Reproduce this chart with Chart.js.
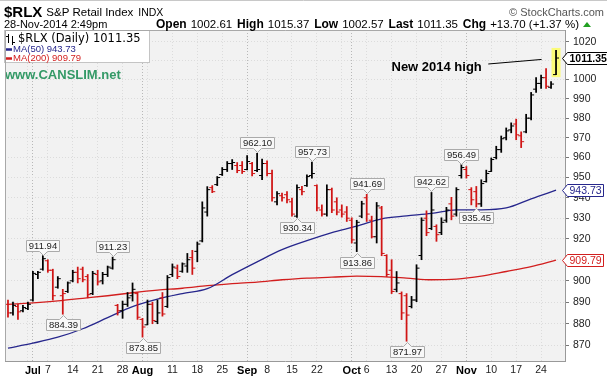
<!DOCTYPE html>
<html>
<head>
<meta charset="utf-8">
<script src="https://cdn.jsdelivr.net/npm/chart.js@4.4.1/dist/chart.umd.min.js"></script>
<style>
html,body{margin:0;padding:0;background:#fff;overflow:hidden}
canvas{display:block}
</style>
</head>
<body>
<canvas id="c" width="607" height="378"></canvas>
<script>
// ---------------- DATA ----------------
const dates = [
"2014-06-24","2014-06-25","2014-06-26","2014-06-27","2014-06-30",
"2014-07-01","2014-07-02","2014-07-03","2014-07-07","2014-07-08","2014-07-09","2014-07-10","2014-07-11",
"2014-07-14","2014-07-15","2014-07-16","2014-07-17","2014-07-18","2014-07-21","2014-07-22","2014-07-23",
"2014-07-24","2014-07-25","2014-07-28","2014-07-29","2014-07-30","2014-07-31",
"2014-08-01","2014-08-04","2014-08-05","2014-08-06","2014-08-07","2014-08-08","2014-08-11","2014-08-12",
"2014-08-13","2014-08-14","2014-08-15","2014-08-18","2014-08-19","2014-08-20","2014-08-21","2014-08-22",
"2014-08-25","2014-08-26","2014-08-27","2014-08-28","2014-08-29",
"2014-09-02","2014-09-03","2014-09-04","2014-09-05","2014-09-08","2014-09-09","2014-09-10","2014-09-11",
"2014-09-12","2014-09-15","2014-09-16","2014-09-17","2014-09-18","2014-09-19","2014-09-22","2014-09-23",
"2014-09-24","2014-09-25","2014-09-26","2014-09-29","2014-09-30",
"2014-10-01","2014-10-02","2014-10-03","2014-10-06","2014-10-07","2014-10-08","2014-10-09","2014-10-10",
"2014-10-13","2014-10-14","2014-10-15","2014-10-16","2014-10-17","2014-10-20","2014-10-21","2014-10-22",
"2014-10-23","2014-10-24","2014-10-27","2014-10-28","2014-10-29","2014-10-30","2014-10-31",
"2014-11-03","2014-11-04","2014-11-05","2014-11-06","2014-11-07","2014-11-10","2014-11-11","2014-11-12",
"2014-11-13","2014-11-14","2014-11-17","2014-11-18","2014-11-19","2014-11-20","2014-11-21","2014-11-24",
"2014-11-25","2014-11-26","2014-11-28"
];
const opens = [
889,885,888,886,887,
891,903,905.5,909.5,905, 897,893,895,900,904, 905.5,902,894,903,900, 903,906,888.5,886,889,
893,894,882,879.5,889, 881,892,888,903,906, 904.5,907,911,914,919, 933,945,946.5,951.5,954,
957,956,956,954,957, 953.5,951,957,952,938, 941,941.5,938,931,944, 946,951,946,934,932,
944,938,934,933,929, 918,931,940,929,921, 935,912,905,896,894, 893,888,891,912,930,
925,926,923,929,937, 932,951,954,944,943, 937,948,953,960,964, 970,974,977,971,973,
980,995,998,1001,996,1002.61
];
const highs = [
891,890,889,888.5,890,
904.5,904.5,911.94,910,905.5, 902,896,899.5,905,906.5, 906.5,903,904.5,905,904, 907,911.23,889,890.5,894.5,
899,894.5,882.5,891,890, 891,894.5,902.5,908,907.5, 908.5,913,914.5,918.5,938, 945.5,946,950.5,955,958,
959,957.5,958,961,957.6, 962.10,959.2,958.4,953.7,943, 942.3,943,939.9,946.4,945.6, 951.3,957.73,946.4,936.5,946.4,
944.8,940,936.5,935.7,930.2, 929,938.3,941.69,931,937.7, 935.8,912.4,910,904.4,894.8, 894,892.7,907.6,930.2,933.6,
942.62,926.8,930.2,935.3,940.2, 945,956.49,955.5,945,945.6, 948.9,953.7,959.8,965.7,970.9, 975,977.6,979.5,973,982,
993.3,1001,1002.4,1005.8,999,1015.37
];
const lows = [
883,884,882,885.5,886.5,
890.5,901,905,904,891, 896.5,884.39,894.5,899.5,899, 899.5,892,893.5,898,898.5, 902,905.5,884,882.5,888,
890.5,882,873.85,879.5,880, 880,883.5,887.5,902,901, 904,904,903,909,918.5, 931,942.5,946,951,953,
954,952.4,952,953.8,950.8, 952.9,948.9,950.8,938.3,936.5, 938.3,937.5,931,930.34,941.4, 945.6,949.7,933.6,931,931,
932.7,931.6,930.5,928.4,918, 913.86,930.2,928.4,920.4,918, 911.9,902,894,894.8,881.9, 871.97,887.3,890.2,910,921.5,
924.4,918.8,922,928,929.2, 931,949.7,949.7,936.5,935.45, 935.7,947.7,953,959.3,962.6, 968.9,972.5,969,965,972.5,
979.1,993.3,995.4,995.4,995.4,1002.57
];
const closes = [
885,888.5,885.5,887.5,889,
903.5,904,910.5,905,893, 901,894,899,904,901, 900.5,893.5,903.5,899.5,903, 906.5,910,886,889,892,
896,883,878.5,889,881.5, 885,884.5,901.5,906.5,902, 908,910,906,917.5,935, 944,943,950,954,957,
957.5,953.5,953,958,952, 954,957,952,940,942, 940,939,932,945,943, 950.5,952,935,932,944,
934,933,932,930,919.5, 928,937,932,921,936, 913,903,895,899,885, 884,891,906,929,923,
934,922,928,934,931, 944,955,951,939,937, 947,952,959,964,969.5, 973.5,976,971.5,968,980,
992,998,1001,996.5,997.65,1011.35
];
// moving averages, at every 5th trading day (index into dates)
const maIdx  = [0,5,10,15,20,25,30,35,40,45,50,55,60,65,70,75,80,85,90,95,100,105,110];
const ma50   = [868.8,871.1,873.8,877.7,882.8,887.9,891.4,894.0,896.3,902.9,909.0,914.8,919.1,923.0,926.1,929.7,931.1,932.3,934.1,934.1,935.0,939.5,943.73];
const ma200  = [889.0,889.7,890.6,891.8,893.0,894.4,895.6,896.5,897.7,898.7,899.4,900.5,901.3,901.7,902.2,902.0,901.3,900.5,900.8,902.2,904.4,906.7,909.79];
const yTicks = [870,880,890,900,910,920,930,940,950,960,970,980,990,1000,1010,1020];
const labelHighs = [911.94,911.23,962.10,957.73,941.69,942.62,956.49];
const labelLows  = [884.39,873.85,930.34,913.86,871.97,935.45];
const monthNames = ["Jan","Feb","Mar","Apr","May","Jun","Jul","Aug","Sep","Oct","Nov","Dec"];

// ---------------- derived ----------------
const N = dates.length;
const last = N - 1;
const parsed = dates.map(d => new Date(d + "T00:00:00Z"));
const weekKey = d => Math.floor((d.getTime() / 86400000 + 3) / 7);
const tickIdx = [], tickLabel = {}, monthIdx = new Set();
for (let i = 1; i < N; i++) {
  const d = parsed[i], p = parsed[i - 1];
  if (d.getUTCMonth() !== p.getUTCMonth()) { monthIdx.add(i); }
}
for (let i = 1; i < N; i++) {
  const d = parsed[i], p = parsed[i - 1];
  const isMonth = monthIdx.has(i);
  const isWeek = weekKey(d) !== weekKey(p);
  if (isMonth) { tickIdx.push(i); tickLabel[i] = monthNames[d.getUTCMonth()]; }
  else if (isWeek) {
    tickIdx.push(i);
    let near = false;
    for (let k = -2; k <= 2; k++) if (monthIdx.has(i + k)) near = true;
    tickLabel[i] = near ? "" : String(d.getUTCDate());
  }
}
const BLACK = "#000000", RED = "#d01515";
const barColors = closes.map((c, i) => (i === 0 ? (c >= opens[0]) : (c >= closes[i - 1])) ? BLACK : RED);

const SANS = '"Liberation Sans", Arial, sans-serif';
Chart.defaults.font.family = SANS;

function valueBox(ctx, x, y, text, above) {
  ctx.font = "9.5px " + SANS;
  const tw = ctx.measureText(text).width;
  const w = Math.round(tw + 5), h = 11, tri = 4, gap = 1;
  const L = Math.round(x - w / 2) + 0.5;
  const xc = Math.round(x) + 0.5;
  let top;
  ctx.beginPath();
  if (above) {
    const bottom = Math.round(y - gap - tri) + 0.5; top = bottom - h;
    ctx.moveTo(L, top); ctx.lineTo(L + w, top); ctx.lineTo(L + w, bottom);
    ctx.lineTo(xc + 4, bottom); ctx.lineTo(xc, bottom + tri); ctx.lineTo(xc - 4, bottom);
    ctx.lineTo(L, bottom); ctx.closePath();
  } else {
    top = Math.round(y + gap + tri) + 0.5; const bottom = top + h;
    ctx.moveTo(L, top); ctx.lineTo(xc - 4, top); ctx.lineTo(xc, top - tri); ctx.lineTo(xc + 4, top);
    ctx.lineTo(L + w, top); ctx.lineTo(L + w, bottom); ctx.lineTo(L, bottom); ctx.closePath();
  }
  ctx.fillStyle = "#f8f8f8"; ctx.fill();
  ctx.strokeStyle = "#aaaaaa"; ctx.lineWidth = 1; ctx.stroke();
  ctx.fillStyle = "#222"; ctx.textAlign = "center"; ctx.textBaseline = "middle";
  ctx.fillText(text, L + w / 2, top + h / 2 + 0.5);
}

function tag(chart, value, text, color, bold) {
  const ctx = chart.ctx;
  const y = Math.round(chart.scales.y.getPixelForValue(value)) + 0.5;
  const tip = chart.chartArea.right - 2.5;
  ctx.font = (bold ? "bold " : "") + "10.5px " + SANS;
  const tw = ctx.measureText(text).width;
  const h = 12, w = Math.round(tw + 4);
  ctx.beginPath();
  ctx.moveTo(tip, y); ctx.lineTo(tip + 5, y - h / 2); ctx.lineTo(tip + 5 + w, y - h / 2);
  ctx.lineTo(tip + 5 + w, y + h / 2); ctx.lineTo(tip + 5, y + h / 2); ctx.closePath();
  ctx.fillStyle = "#fff"; ctx.fill();
  ctx.strokeStyle = color; ctx.lineWidth = 1; ctx.stroke();
  ctx.fillStyle = color; ctx.textAlign = "left"; ctx.textBaseline = "middle";
  ctx.fillText(text, tip + 7, y + 0.5);
}

const decor = {
  id: "decor",
  beforeDraw(chart) {
    const { ctx, chartArea: a } = chart;
    ctx.save();
    ctx.fillStyle = "#fff"; ctx.fillRect(0, 0, chart.width, chart.height);
    ctx.fillStyle = "#f2f2f2"; ctx.fillRect(a.left, a.top, a.right - a.left, a.bottom - a.top);
    ctx.restore();
  },
  beforeDatasetsDraw(chart) {
    const ctx = chart.ctx;
    const x = chart.scales.x.getPixelForValue(last);
    const yt = chart.scales.y.getPixelForValue(highs[last]) - 2.5;
    const yb = chart.scales.y.getPixelForValue(lows[last]) + 2.5;
    ctx.save();
    ctx.fillStyle = "#fbfb78";
    ctx.fillRect(x - 4.5, yt, 9, yb - yt);
    ctx.restore();
  },
  afterDatasetsDraw(chart) {
    const ctx = chart.ctx, xs = chart.scales.x, ys = chart.scales.y;
    ctx.save();
    labelHighs.forEach(v => {
      const i = highs.indexOf(v);
      valueBox(ctx, xs.getPixelForValue(i), ys.getPixelForValue(v), v.toFixed(2), true);
    });
    labelLows.forEach(v => {
      const i = lows.indexOf(v);
      valueBox(ctx, xs.getPixelForValue(i), ys.getPixelForValue(v), v.toFixed(2), false);
    });
    // legend box
    ctx.fillStyle = "#fff"; ctx.fillRect(4.5, 30.5, 145, 32);
    ctx.strokeStyle = "#c4c4c4"; ctx.lineWidth = 1; ctx.strokeRect(4.5, 30.5, 145, 32);
    // OHLC glyph
    ctx.strokeStyle = "#000"; ctx.beginPath();
    ctx.moveTo(8.5, 34); ctx.lineTo(8.5, 43); ctx.moveTo(6, 36.5); ctx.lineTo(8.5, 36.5);
    ctx.moveTo(12.5, 36); ctx.lineTo(12.5, 45); ctx.moveTo(12.5, 42.5); ctx.lineTo(15, 42.5);
    ctx.stroke();
    ctx.textAlign = "left"; ctx.textBaseline = "middle";
    ctx.fillStyle = "#000"; ctx.font = '11.5px "DejaVu Sans", Verdana, sans-serif';
    ctx.fillText("$RLX (Daily) " + closes[last].toFixed(2), 18, 39.5);
    ctx.lineWidth = 2.5;
    ctx.strokeStyle = "#26268c"; ctx.beginPath(); ctx.moveTo(5, 49.5); ctx.lineTo(12, 49.5); ctx.stroke();
    ctx.strokeStyle = "#d21e1e"; ctx.beginPath(); ctx.moveTo(5, 58.5); ctx.lineTo(12, 58.5); ctx.stroke();
    ctx.font = "9.5px " + SANS;
    ctx.fillStyle = "#26268c"; ctx.fillText("MA(50) " + ma50[ma50.length - 1].toFixed(2), 13, 49.5);
    ctx.fillStyle = "#d21e1e"; ctx.fillText("MA(200) " + ma200[ma200.length - 1].toFixed(2), 13, 58.5);
    // site text
    ctx.fillStyle = "#339966"; ctx.font = "bold 13px " + SANS;
    ctx.fillText("www.CANSLIM.net", 5, 75.5);
    // note
    ctx.fillStyle = "#000"; ctx.font = "bold 13px " + SANS; ctx.textAlign = "right";
    ctx.fillText("New 2014 high", xs.getPixelForValue(95.1), ys.getPixelForValue(1006.2));
    ctx.strokeStyle = "#000"; ctx.lineWidth = 1; ctx.beginPath();
    ctx.moveTo(xs.getPixelForValue(96.4), ys.getPixelForValue(1008.2));
    ctx.lineTo(xs.getPixelForValue(107.1), ys.getPixelForValue(1010.6));
    ctx.stroke();
    ctx.restore();
  },
  afterDraw(chart) {
    const { ctx, chartArea: a } = chart;
    ctx.save();
    // frame (left/top solid)
    ctx.strokeStyle = "#a8a8a8"; ctx.lineWidth = 1; ctx.beginPath();
    ctx.moveTo(a.left + 0.5, a.bottom); ctx.lineTo(a.left + 0.5, a.top + 0.5); ctx.lineTo(a.right, a.top + 0.5);
    ctx.stroke();
    ctx.strokeStyle = "#c8c8c8"; ctx.beginPath(); ctx.moveTo(0, 0.5); ctx.lineTo(chart.width, 0.5); ctx.stroke();
    // right tags
    tag(chart, closes[last], closes[last].toFixed(2), "#000", true);
    tag(chart, ma50[ma50.length - 1], ma50[ma50.length - 1].toFixed(2), "#26268c", false);
    tag(chart, ma200[ma200.length - 1], ma200[ma200.length - 1].toFixed(2), "#d21e1e", false);
    // header row 1
    ctx.textBaseline = "middle"; ctx.textAlign = "left"; ctx.fillStyle = "#000";
    let hx = 4;
    ctx.font = "bold 15px " + SANS; ctx.fillText("$RLX", hx, 12.5); hx += ctx.measureText("$RLX").width + 4;
    ctx.font = "11.5px " + SANS; ctx.fillText("S&P Retail Index", hx, 13); hx += ctx.measureText("S&P Retail Index").width + 5;
    ctx.font = "10.5px " + SANS; ctx.fillText("INDX", hx, 13);
    ctx.fillStyle = "#555"; ctx.font = "11px " + SANS; ctx.textAlign = "right";
    ctx.fillText("\u00A9 StockCharts.com", 604, 13);
    // header row 2
    ctx.textAlign = "left"; ctx.fillStyle = "#000";
    ctx.font = "11px " + SANS; ctx.fillText("28-Nov-2014 2:49pm", 4, 24.5);
    const chg = closes[last] - closes[last - 1];
    const pct = chg / closes[last - 1] * 100;
    const segs = [["Open", opens[last].toFixed(2)], ["High", highs[last].toFixed(2)], ["Low", lows[last].toFixed(2)],
      ["Last", closes[last].toFixed(2)], ["Chg", "+" + chg.toFixed(2) + " (+" + pct.toFixed(2) + " %)"]];
    const bf = "bold 12px " + SANS, nf = "11.5px " + SANS;
    let widths = segs.map(s => { ctx.font = bf; const a1 = ctx.measureText(s[0]).width; ctx.font = nf; return a1 + 4 + ctx.measureText(s[1]).width; });
    const total = widths.reduce((p, q) => p + q, 0);
    const x0 = 156, x1 = 579;
    const gap = (x1 - x0 - total) / (segs.length - 1);
    let x = x0;
    segs.forEach((s, k) => {
      ctx.font = bf; ctx.fillText(s[0], x, 24.5); const a1 = ctx.measureText(s[0]).width;
      ctx.font = nf; ctx.fillText(s[1], x + a1 + 4, 24.5);
      x += widths[k] + gap;
    });
    ctx.fillStyle = "#22a022"; ctx.beginPath();
    ctx.moveTo(583, 27); ctx.lineTo(591, 27); ctx.lineTo(587, 22); ctx.closePath(); ctx.fill();
    ctx.restore();
  }
};

new Chart(document.getElementById("c"), {
  type: "scatter",
  data: {
    datasets: [
      { type: "line", label: "MA(200)", data: maIdx.map((x, k) => ({ x, y: ma200[k] })),
        borderColor: "#d21e1e", borderWidth: 1.3, pointRadius: 0, cubicInterpolationMode: "monotone", order: 5 },
      { type: "line", label: "MA(50)", data: maIdx.map((x, k) => ({ x, y: ma50[k] })),
        borderColor: "#26268c", borderWidth: 1.3, pointRadius: 0, cubicInterpolationMode: "monotone", order: 4 },
      { type: "bar", label: "High-Low", data: dates.map((d, i) => ({ x: i, y: [lows[i], highs[i]] })),
        backgroundColor: barColors, borderWidth: 0, barThickness: 1.1, order: 2 },
      { type: "scatter", label: "Open", data: opens.map((o, i) => ({ x: i - 0.3, y: o })),
        pointStyle: "line", pointRadius: 1.5, pointBorderWidth: 1, pointBorderColor: barColors, order: 1 },
      { type: "scatter", label: "Close", data: closes.map((c, i) => ({ x: i + 0.3, y: c })),
        pointStyle: "line", pointRadius: 1.5, pointBorderWidth: 1, pointBorderColor: barColors, order: 1 }
    ]
  },
  options: {
    responsive: false, animation: false, events: [], devicePixelRatio: 1,
    layout: { padding: { top: 30, left: 4, right: 0, bottom: 0 } },
    plugins: { legend: { display: false }, tooltip: { enabled: false }, title: { display: false } },
    scales: {
      x: {
        type: "linear", min: -0.6, max: 111.8, offset: false,
        afterBuildTicks: s => { s.ticks = tickIdx.map(v => ({ value: v })); },
        afterFit: s => { s.height = 17; },
        ticks: {
          autoSkip: false, maxRotation: 0, padding: 3,
          callback: v => (tickLabel[v] !== undefined ? tickLabel[v] : ""),
          color: c => monthIdx.has(c.tick && c.tick.value) ? "#000" : "#222",
          font: c => monthIdx.has(c.tick && c.tick.value) ? { family: SANS, size: 11, weight: "bold" } : { family: SANS, size: 10.5 }
        },
        grid: { color: c => monthIdx.has(c.tick && c.tick.value) ? "#b8b8b8" : "#dcdcdc", drawTicks: false, offset: false },
        border: { display: true, color: "#999", dash: [1, 2] }
      },
      y: {
        type: "logarithmic", position: "right", min: 863, max: 1026.3,
        afterBuildTicks: s => { s.ticks = yTicks.map(v => ({ value: v })); },
        afterFit: s => { s.width = 42; },
        ticks: { autoSkip: false, padding: 4, color: "#222", font: { family: SANS, size: 10.5 }, callback: v => String(v) },
        grid: { color: "#dcdcdc", tickColor: "#777", tickLength: 4, drawTicks: true },
        border: { display: true, color: "#999", dash: [1, 2] }
      }
    }
  },
  plugins: [decor]
});
</script>
</body>
</html>
